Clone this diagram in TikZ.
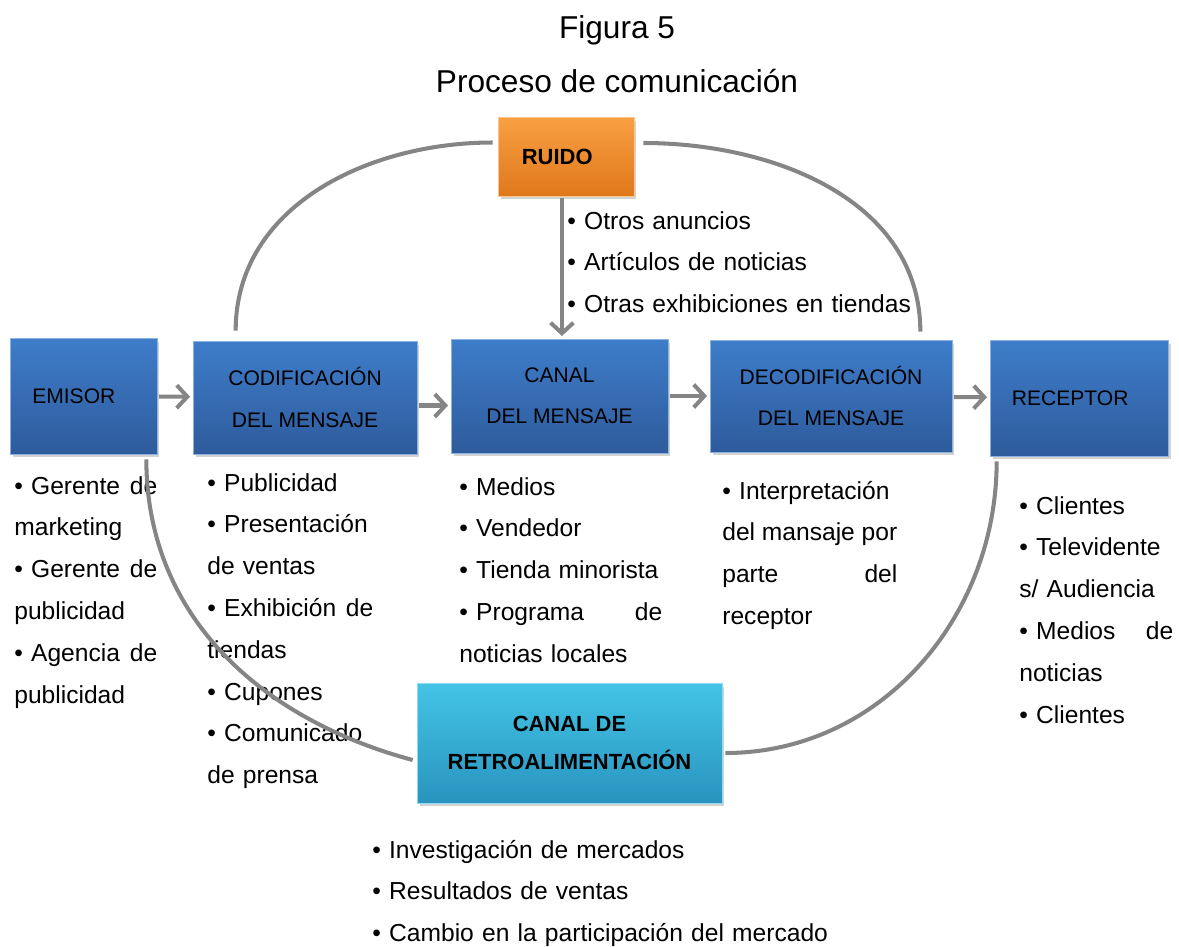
\documentclass[tikz,border=0pt]{standalone}
\usepackage{fontspec}
\setmainfont{Liberation Sans}
\usepackage{tikz}
\usetikzlibrary{arrows.meta, shadows}
\definecolor{azulA}{HTML}{3E7DCA}
\definecolor{azulB}{HTML}{2E5B9C}
\definecolor{naranjaA}{HTML}{F9A043}
\definecolor{naranjaB}{HTML}{DF781B}
\definecolor{cianA}{HTML}{44C4E7}
\definecolor{cianB}{HTML}{2894BF}
\definecolor{gris}{HTML}{858585}

\begin{document}
\begin{tikzpicture}[x=0.02cm, y=-0.02cm,
        caja/.style={rectangle, inner sep=0pt, align=center,
            font=\fontsize{12}{23.5}\selectfont,
            drop shadow={opacity=0.35, shadow xshift=0.05cm, shadow yshift=-0.07cm}},
        azul/.style={caja, top color=azulA, bottom color=azulB, draw=azulA!60!white, line width=0.4pt},
        naranja/.style={caja, top color=naranjaA, bottom color=naranjaB, draw=naranjaA!60!white, line width=0.4pt,
            font=\fontsize{12.5}{23}\selectfont\bfseries},
        cian/.style={caja, top color=cianA, bottom color=cianB, draw=cianA!60!white, line width=0.4pt,
            font=\fontsize{12.5}{21.5}\selectfont\bfseries},
        lista/.style={inner sep=0pt, anchor=base west, align=left, font=\fontsize{14}{23.8}\selectfont},
        titulo/.style={inner sep=0pt, anchor=base, font=\fontsize{18}{22}\selectfont},
        flecha/.style={draw=gris, line width=2.3pt, -{Straight Barb[length=6pt,width=13pt]},
            shorten <=1pt, shorten >=1.5pt},
        arco/.style={draw=gris, line width=2.3pt}]
    \useasboundingbox (0,0) rectangle (1179,946);
    \node[titulo] (fig) at (617,39) {Figura 5};
    \node[titulo] (tit) at (617,92) {Proceso de comunicación};

    \node[naranja, minimum width=2.72cm, minimum height=1.58cm] (ruido) at (566,156.5) {RUIDO\hspace*{10pt}};
    \node[azul, minimum width=2.94cm, minimum height=2.32cm] (emisor) at (83.5,396) {EMISOR\hspace*{11pt}};
    \node[azul, minimum width=4.48cm, minimum height=2.26cm] (codif) at (305,397.5) {CODIFICACIÓN\\DEL MENSAJE};
    \node[azul, minimum width=4.34cm, minimum height=2.28cm] (canal) at (559.5,396) {CANAL\\DEL MENSAJE};
    \node[azul, minimum width=4.84cm, minimum height=2.24cm] (decod) at (831,396) {DECODIFICACIÓN\\DEL MENSAJE};
    \node[azul, minimum width=3.56cm, minimum height=2.32cm] (receptor) at (1079,398) {RECEPTOR\hspace*{10pt}};
    \node[cian, minimum width=6.10cm, minimum height=2.40cm] (retro) at (569.5,743) {CANAL DE\\RETROALIMENTACIÓN};

    \node[lista, text width=7cm] (lruido) at (567,229)
        {\textbullet\ Otros anuncios\\ \textbullet\ Artículos de noticias\\ \textbullet\ Otras exhibiciones en tiendas};
    \node[lista, text width=2.86cm] (lemisor) at (14,494)
        {\textbullet\ Gerente\hfill de\\ marketing\\ \textbullet\ Gerente\hfill de\\ publicidad\\
         \textbullet\ Agencia\hfill de\\ publicidad};
    \node[lista, text width=3.32cm] (lcodif) at (207,491)
        {\textbullet\ Publicidad\\ \textbullet\ Presentación\\ de ventas\\ \textbullet\ Exhibición\hfill de\\
         tiendas\\ \textbullet\ Cupones\\ \textbullet\ Comunicado\\ de prensa};
    \node[lista, text width=4.06cm] (lcanal) at (459,495)
        {\textbullet\ Medios\\ \textbullet\ Vendedor\\ \textbullet\ Tienda minorista\\ \textbullet\ Programa\hfill de\\
         noticias locales};
    \node[lista, text width=3.5cm] (ldecod) at (722,499)
        {\textbullet\ Interpretación\\ del\hfill mansaje\hfill por\\ parte\hfill del\\ receptor};
    \node[lista, text width=3.08cm] (lreceptor) at (1019,514)
        {\textbullet\ Clientes\\ \textbullet\ Televidente\\ s/ Audiencia\\ \textbullet\ Medios\hfill de\\
         noticias\\ \textbullet\ Clientes};
    \node[lista, text width=10.5cm] (lretro) at (372,858)
        {\textbullet\ Investigación de mercados\\ \textbullet\ Resultados de ventas\\
         \textbullet\ Cambio en la participación del mercado};

    \draw[flecha] (emisor) -- (codif);
    \draw[flecha] ([yshift=-0.16cm]codif.east) -- ([yshift=-0.16cm]codif.east -| canal.west);
    \draw[flecha] (canal) -- (decod);
    \draw[flecha] (decod) -- (receptor);
    \draw[flecha] ([xshift=-0.08cm]ruido.south) -- ([xshift=-0.08cm]ruido.south |- canal.north);

    \draw[arco] ([xshift=0.86cm, yshift=0.2cm]codif.north west) to[out=90, in=180]
        ([xshift=-0.1cm, yshift=0.28cm]ruido.west);
    \draw[arco] ([xshift=0.18cm, yshift=0.27cm]ruido.east) to[out=0, in=90]
        ([xshift=-0.64cm, yshift=0.16cm]decod.north east);
    \draw[arco] ([xshift=-0.22cm, yshift=-0.1cm]emisor.south east) to[out=-90, in=165]
        ([xshift=-0.08cm, yshift=-0.34cm]retro.west);
    \draw[arco] ([xshift=0.06cm, yshift=-0.2cm]retro.east) to[out=0, in=-90]
        ([xshift=0.14cm, yshift=-0.1cm]receptor.south west);
\end{tikzpicture}
\end{document}
